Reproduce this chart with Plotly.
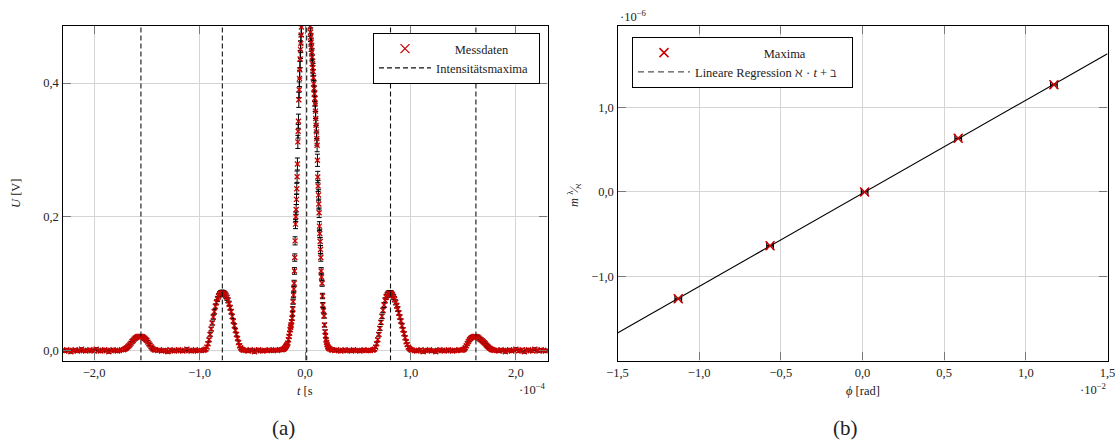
import numpy as np
import plotly.graph_objects as go

# ---------------- (a) Messdaten: t in microseconds, U in volts ----------------
t_base_a = list(range(-230, -173, 2))
u_base_a = [0.000, -0.001, 0.001, 0.000, -0.002, 0.000, 0.001, -0.001, 0.000, 0.002,
            0.000, -0.001, 0.000, 0.001, 0.000, -0.001, 0.002, 0.000, -0.001, 0.000,
            0.001, 0.000, -0.002, 0.000, 0.001, 0.000, -0.001, 0.000, 0.001]

t_peak_m2 = list(range(-172, -141))
u_peak_m2 = [0.001, 0.002, 0.003, 0.004, 0.0055, 0.007, 0.009, 0.011, 0.0135, 0.015,
             0.017, 0.0185, 0.0195, 0.0205, 0.021, 0.021, 0.021, 0.021, 0.0205, 0.0195,
             0.018, 0.0165, 0.015, 0.0125, 0.010, 0.008, 0.0055, 0.0035, 0.002, 0.001,
             0.0005]

t_base_b = list(range(-140, -97, 2))
u_base_b = [0.000, 0.001, -0.001, 0.000, 0.000, -0.002, 0.001, 0.000, -0.001, 0.000,
            0.001, 0.000, -0.001, 0.000, 0.002, 0.000, -0.001, 0.000, 0.001, -0.001,
            0.000, 0.000]

t_peak_m1 = list(range(-96, -57))
u_peak_m1 = [0.0003, 0.001, 0.002, 0.005, 0.010, 0.016, 0.024, 0.032, 0.041, 0.050,
             0.058, 0.066, 0.072, 0.077, 0.081, 0.084, 0.0855, 0.086, 0.086, 0.0855,
             0.084, 0.082, 0.079, 0.075, 0.070, 0.064, 0.058, 0.051, 0.044, 0.037,
             0.030, 0.024, 0.018, 0.012, 0.007, 0.004, 0.002, 0.001, 0.0003]

t_base_c = list(range(-56, -23, 2))
u_base_c = [0.000, -0.001, 0.001, 0.000, -0.002, 0.000, 0.001, 0.000, -0.001, 0.000,
            0.000, 0.001, 0.000, 0.000, 0.001, 0.000, 0.001]

t_peak_0 = [-22, -21, -20.4, -19.5, -18.8, -18.2, -17.6, -17.0, -16.3, -15.7,
            -15.1, -14.6, -14.1, -13.6, -13.2, -12.7, -12.2, -11.9, -11.6, -11.3,
            -10.9, -10.6, -10.3, -10.0, -9.7, -9.4, -9.0, -8.7, -8.4, -8.1,
            -7.8, -7.5, -7.2, -6.8, -6.5, -6.2, -5.9, -5.5, -5.2, -4.9,
            -4.6, -4.3, -4.0, -3.7, -3.4,
            4.9, 5.2, 5.5, 5.8, 6.1, 6.5, 6.8, 7.1, 7.4, 7.7,
            8.0, 8.3, 8.6, 9.0, 9.3, 9.6, 9.9, 10.2, 10.5, 10.9,
            11.2, 11.5, 11.8, 12.1, 12.4, 12.8, 13.1, 13.4, 13.7, 14.0,
            14.4, 14.7, 15.0, 15.3, 15.7, 16.2, 16.6, 16.9, 17.5, 18.1,
            18.5, 19.1, 19.5, 20.0, 20.5, 21.0, 21.6, 22.2, 22.8, 23.8,
            25.0, 26.0]
u_peak_0 = [0.001, 0.0015, 0.002, 0.003, 0.0045, 0.006, 0.007, 0.009, 0.011, 0.016,
            0.021, 0.026, 0.031, 0.035, 0.038, 0.043, 0.048, 0.055, 0.062, 0.073,
            0.083, 0.092, 0.1005, 0.119, 0.139, 0.164, 0.189, 0.200, 0.211, 0.226,
            0.242, 0.260, 0.279, 0.312, 0.328, 0.343, 0.375, 0.390, 0.407, 0.420,
            0.436, 0.450, 0.459, 0.472, 0.484,
            0.484, 0.476, 0.469, 0.461, 0.454, 0.4465, 0.439, 0.429, 0.423, 0.417,
            0.408, 0.399, 0.392, 0.384, 0.377, 0.369, 0.358, 0.347, 0.337, 0.327,
            0.317, 0.307, 0.2845, 0.2595, 0.246, 0.2326, 0.219, 0.206, 0.186, 0.175,
            0.163, 0.151, 0.139, 0.119, 0.110, 0.1005, 0.0815, 0.068, 0.0595, 0.0516,
            0.038, 0.028, 0.022, 0.0157, 0.012, 0.0085, 0.0057, 0.004, 0.003, 0.002,
            0.001, 0.0005]

t_base_d = list(range(28, 63, 2))
u_base_d = [0.000, 0.001, 0.000, -0.001, 0.000, 0.001, 0.000, 0.000, -0.001, 0.001,
            0.000, 0.000, -0.001, 0.000, 0.001, 0.000, 0.000, 0.000]

t_peak_p1 = list(range(64, 103))
u_peak_p1 = [0.0005, 0.001, 0.002, 0.005, 0.010, 0.016, 0.024, 0.033, 0.042, 0.051,
             0.060, 0.068, 0.075, 0.080, 0.083, 0.085, 0.0856, 0.0856, 0.085, 0.083,
             0.080, 0.0765, 0.072, 0.067, 0.062, 0.056, 0.050, 0.044, 0.037, 0.031,
             0.025, 0.019, 0.013, 0.009, 0.005, 0.003, 0.0015, 0.0008, 0.0003]

t_base_e = list(range(104, 147, 2))
u_base_e = [0.000, -0.001, 0.000, 0.001, -0.002, 0.000, 0.000, 0.001, -0.001, 0.000,
            -0.002, 0.000, 0.001, 0.000, -0.001, 0.000, 0.001, 0.000, -0.001, 0.000,
            0.000, 0.001]

t_peak_p2 = list(range(148, 181))
u_peak_p2 = [0.0003, 0.0005, 0.001, 0.002, 0.004, 0.007, 0.0105, 0.0135, 0.016, 0.018,
             0.019, 0.020, 0.0205, 0.021, 0.021, 0.0205, 0.020, 0.0185, 0.017, 0.0158,
             0.0145, 0.013, 0.0115, 0.010, 0.008, 0.0065, 0.005, 0.0035, 0.0025, 0.0015,
             0.001, 0.0005, 0.0002]

t_base_f = list(range(182, 231, 2))
u_base_f = [0.000, -0.001, 0.001, 0.000, -0.002, 0.000, 0.001, -0.001, 0.000, 0.002,
            -0.001, 0.000, 0.001, -0.002, 0.000, 0.001, 0.000, -0.001, 0.002, 0.000,
            -0.001, 0.001, 0.000, -0.001, 0.000]

# measurement uncertainty of U: absolute + relative part
u_err_abs = 0.002
u_err_rel = 0.025

# positions of the intensity maxima (microseconds)
t_maxima = [-155.6, -78.4, 1.6, 81.1, 162.1]

# ---------------- (b) Maxima: phi in rad, m*lambda/aleph ----------------
phi_max = [-0.01128, -0.00566, 0.00013, 0.00586, 0.01172]
m_val = [-1.265e-6, -0.637e-6, 0.0, 0.635e-6, 1.268e-6]
phi_err = 0.0002

# ---------------- assemble ----------------
segments = [(t_base_a, u_base_a), (t_peak_m2, u_peak_m2), (t_base_b, u_base_b),
            (t_peak_m1, u_peak_m1), (t_base_c, u_base_c), (t_peak_0, u_peak_0),
            (t_base_d, u_base_d), (t_peak_p1, u_peak_p1), (t_base_e, u_base_e),
            (t_peak_p2, u_peak_p2), (t_base_f, u_base_f)]
t_all, u_all = [], []
for ts, us in segments:
    assert len(ts) == len(us), (ts[0], len(ts), len(us))
    t_all += list(ts)
    u_all += list(us)
t_s = np.array(t_all) * 1e-6
u = np.array(u_all)
u_err = u_err_abs + u_err_rel * np.abs(u)

W, H = 1115, 441
def px(x):
    return x / W
def py(y):
    return 1 - y / H

X1 = (-2.3e-4, 2.3e-4)
Y1 = (-0.015, 0.4854)
X2 = (-0.015, 0.015)
Y2 = (-1.995e-6, 1.964e-6)

RED = "#cc0000"
SERIF = "Liberation Serif"
NB = "\u00a0"

fig = go.Figure()

# dashed maxima lines
dx, dy = [], []
for tm in t_maxima:
    dx += [tm * 1e-6, tm * 1e-6, None]
    dy += [Y1[0], Y1[1], None]

fig.add_trace(go.Scatter(
    x=t_s, y=u, mode="markers", name="Messdaten", showlegend=False,
    marker=dict(symbol="x-thin", size=5, color=RED, line=dict(color=RED, width=1.3)),
    error_y=dict(type="data", array=u_err, color="black", thickness=1, width=2.5),
    xaxis="x", yaxis="y", cliponaxis=True,
))
# legend entry for the measured data (same style, legend-sized mark)
fig.add_trace(go.Scatter(
    x=[None], y=[None], mode="markers", name=NB * 6 + "Messdaten",
    marker=dict(symbol="x-thin", size=9, color=RED, line=dict(color=RED, width=1.3)),
    xaxis="x", yaxis="y", legend="legend",
))
fig.add_trace(go.Scatter(
    x=dx, y=dy, mode="lines", name="Intensitätsmaxima" + NB * 2,
    line=dict(color="#111", width=1.1, dash="5px,3px"),
    xaxis="x", yaxis="y", legend="legend",
))

# right panel
slope, intercept = np.polyfit(phi_max, m_val, 1)
xl = np.array(X2)
fig.add_trace(go.Scatter(
    x=xl, y=slope * xl + intercept, mode="lines", showlegend=False,
    line=dict(color="black", width=1.1), xaxis="x2", yaxis="y2",
))
fig.add_trace(go.Scatter(
    x=phi_max, y=m_val, mode="markers", name=NB * 22 + "Maxima",
    marker=dict(symbol="x-thin", size=9, color=RED, line=dict(color=RED, width=1.5)),
    error_x=dict(type="constant", value=phi_err, color="black", thickness=1.3, width=4),
    xaxis="x2", yaxis="y2", legend="legend2",
))
fig.add_trace(go.Scatter(
    x=[None], y=[None], mode="lines", name="Lineare Regression ℵ · <i>t</i> + ℶ" + NB * 3,
    line=dict(color="#555", width=1.4, dash="6px,4px"),
    xaxis="x2", yaxis="y2", legend="legend2",
))

axis_common = dict(
    ticks="inside", ticklen=8, tickwidth=1, tickcolor="#777",
    showline=True, linecolor="black", linewidth=1.3, mirror="allticks",
    showgrid=True, gridcolor="#d4d4d4", gridwidth=1, zeroline=False,
    automargin=False, ticklabeloverflow="allow",
    tickfont=dict(family=SERIF, size=12.5, color="#222"),
)

fig.update_layout(
    width=W, height=H, autosize=False,
    margin=dict(l=0, r=0, t=0, b=0, pad=0, autoexpand=False),
    paper_bgcolor="white", plot_bgcolor="white",
    font=dict(family=SERIF, size=12.5, color="#222"),
    xaxis=dict(domain=[px(62.5), px(547.5)], range=list(X1), anchor="y",
               tickvals=[-2e-4, -1e-4, 0, 1e-4, 2e-4],
               ticktext=["−2,0", "−1,0", "0,0", "1,0", "2,0"], **axis_common),
    yaxis=dict(domain=[py(360.5), py(26)], range=list(Y1), anchor="x",
               tickvals=[0, 0.2, 0.4], ticktext=["0,0", "0,2", "0,4"], **axis_common),
    xaxis2=dict(domain=[px(617.5), px(1107.5)], range=list(X2), anchor="y2",
                tickvals=[-0.015, -0.01, -0.005, 0, 0.005, 0.01, 0.015],
                ticktext=["−1,5", "−1,0", "−0,5", "0,0", "0,5", "1,0", "1,5"], **axis_common),
    yaxis2=dict(domain=[py(360.5), py(26)], range=list(Y2), anchor="x2",
                tickvals=[-1e-6, 0, 1e-6], ticktext=["−1,0", "0,0", "1,0"], **axis_common),
    legend=dict(x=px(540), xanchor="right", y=py(33), yanchor="top",
                bgcolor="white", bordercolor="black", borderwidth=1,
                font=dict(family=SERIF, size=12.5, color="#222"),
                itemwidth=52, tracegroupgap=0),
    legend2=dict(x=px(632), xanchor="left", y=py(37), yanchor="top",
                 bgcolor="white", bordercolor="black", borderwidth=1,
                 font=dict(family=SERIF, size=12.5, color="#222"),
                 itemwidth=52, tracegroupgap=0),
    showlegend=True,
)

def ann(text, x, y, size=12.5, angle=0, xanchor="center"):
    fig.add_annotation(text=text, x=px(x), y=py(y), xref="paper", yref="paper",
                       showarrow=False, textangle=angle, xanchor=xanchor, yanchor="middle",
                       font=dict(family=SERIF, size=size, color="#222"))

ann("<i>U</i> [V]", 16, 193, angle=-90)
ann("<i>t</i> [s", 305, 391)
ann("·10<sup>−4</sup>", 548, 389, xanchor="right")
ann("(a)", 283, 428, size=21)
ann("<i>m</i> <sup>λ</sup>⁄<sub>ℵ</sub>", 574, 195, angle=-90)
ann("<i>ϕ</i> [rad]", 863, 391)
ann("·10<sup>−2</sup>", 1108, 389, xanchor="right")
ann("·10<sup>−6</sup>", 618, 16, xanchor="left")
ann("(b)", 845, 428, size=21)

fig.write_html("out.html")
